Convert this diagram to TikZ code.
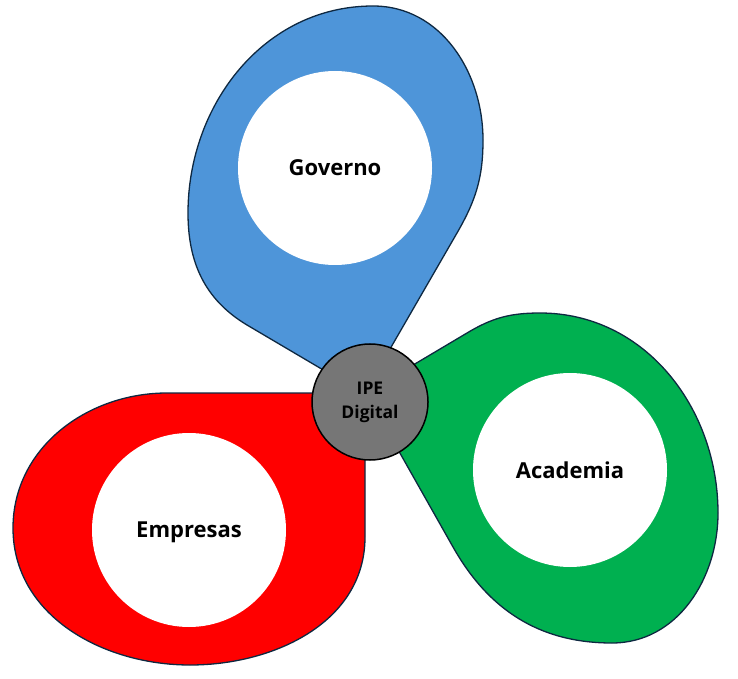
\documentclass[tikz,border=0pt]{standalone}
\usepackage{fontspec}
\setmainfont{Open Sans}
\definecolor{gblue}{HTML}{4E95D9}
\definecolor{gred}{HTML}{FF0000}
\definecolor{ggreen}{HTML}{00B050}
\definecolor{hubgray}{HTML}{767676}
\definecolor{outl}{HTML}{0E2841}
\begin{document}
\begin{tikzpicture}[x=1pt,y=1pt,
  blob/.style={draw=outl, line width=1.3pt, line join=round},
  hole/.style={circle, fill=white, minimum size=194pt, inner sep=0pt, text depth=0pt, font=\bfseries\fontsize{22}{26}\selectfont},
  hub/.style={circle, draw=black, line width=1.5pt, fill=hubgray, minimum size=116pt, inner sep=0pt, align=center, font=\bfseries\fontsize{17.5}{24}\selectfont}]
\useasboundingbox (0,0) rectangle (738,678);
% blue lobe (Governo)
\path[blob, fill=gblue] (364,284) -- (247,353) to[out=149,in=-90] (188,465)
  to[out=90,in=180] (373,672) to[out=0,in=90] (483,538)
  to[out=-90,in=60] (457,445) -- cycle;
% red lobe (Empresas)
\path[blob, fill=gred] (365,285) -- (167,285) to[out=180,in=90] (13,150)
  to[out=-90,in=180] (190,13) to[out=0,in=-90] (365,141) -- cycle;
% green lobe (Academia)
\path[blob, fill=ggreen] (366,285) -- (467,345) to[out=31,in=180] (540,365)
  to[out=0,in=90] (718,165) to[out=-90,in=0] (612,35)
  to[out=180,in=-60.5] (453,131) -- cycle;
\node[hole] (gov) at (335,510) {Governo};
\node[hole] (emp) at (189,148) {Empresas};
\node[hole] (aca) at (570,208) {Academia};
\node[hub] (ipe) at (370,276) {IPE\\Digital};
\end{tikzpicture}
\end{document}
